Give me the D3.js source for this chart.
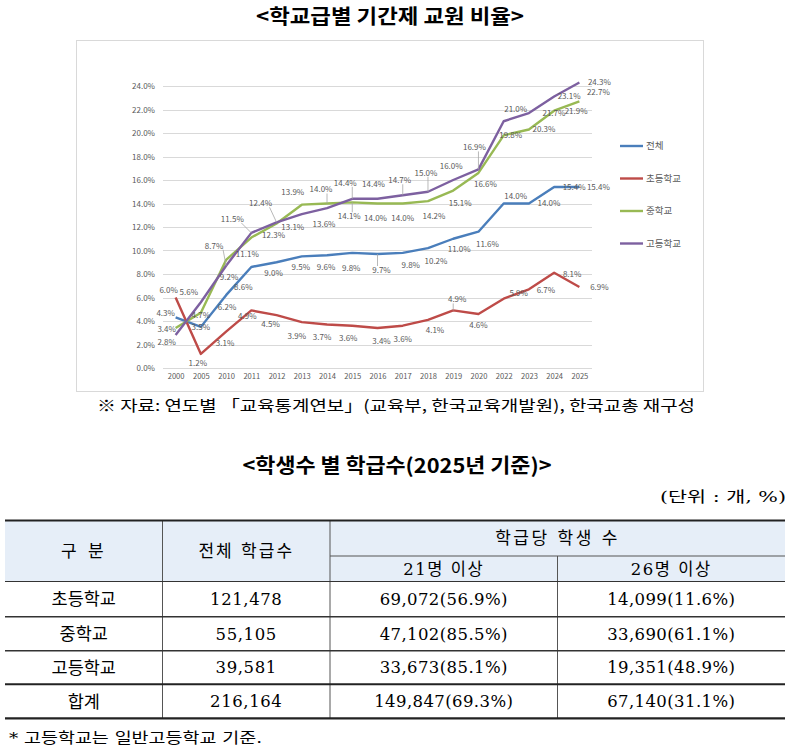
<!DOCTYPE html>
<html><head><meta charset="utf-8">
<script src="https://cdn.jsdelivr.net/npm/d3@7"></script>
<style>body{margin:0;background:#fff}</style>
</head><body>
<svg id="c" width="792" height="755" xmlns="http://www.w3.org/2000/svg"></svg>
<script>
// ---------- DATA ----------
const years = ["2000","2005","2010","2011","2012","2013","2014","2015","2016","2017","2018","2019","2020","2022","2023","2024","2025"];
const seriesNames = ["전체","초등학교","중학교","고등학교"];
const totalVals  = [4.3,3.5,6.2,8.6,9.0,9.5,9.6,9.8,9.7,9.8,10.2,11.0,11.6,14.0,14.0,15.4,15.4];
const elemVals   = [6.0,1.2,3.1,4.9,4.5,3.9,3.7,3.6,3.4,3.6,4.1,4.9,4.6,5.9,6.7,8.1,6.9];
const middleVals = [3.4,4.7,9.2,11.1,12.3,13.9,14.0,14.1,14.0,14.0,14.2,15.1,16.6,19.8,20.3,21.9,22.7];
const highVals   = [2.8,5.6,8.7,11.5,12.4,13.1,13.6,14.4,14.4,14.7,15.0,16.0,16.9,21.0,21.7,23.1,24.3];
const yTickVals  = [0,2,4,6,8,10,12,14,16,18,20,22,24];

const tableRowNames = ["초등학교","중학교","고등학교","합계"];
const totalClasses  = ["121,478","55,105","39,581","216,164"];
const over21        = ["69,072(56.9%)","47,102(85.5%)","33,673(85.1%)","149,847(69.3%)"];
const over26        = ["14,099(11.6%)","33,690(61.1%)","19,351(48.9%)","67,140(31.1%)"];

// ---------- STYLE / LAYOUT ----------
const colors = ["#4A7EBB","#BE4B48","#98B954","#7D60A0"];
// label offsets [dx,dy] per series per point (placement only)
const labelOffsets = [
  [[-10,-4],[0,0],[1,12],[-8,20],[-3,11],[-1,11],[-1,12],[-1,15],[4,16],[8,12],[8,13],[6,10],[9,12],[12,-7],[20,0],[20,0],[19,0]],
  [[-7,-7],[-3,9],[-1,12],[-4,6],[-6,9],[-5,14],[-5,13],[-4,12],[4,13],[0,13],[7,10],[4,-11],[0,11],[15,-5],[17,1],[18,1],[20,0]],
  [[-9,1],[0,2],[3,17],[-4,17],[-3,12],[-9,-12],[-6,-14],[-3,14],[-2,15],[0,15],[6,15],[7,13],[7,11],[7,0],[15,0],[22,1],[19,-9]],
  [[-9,7],[-12,-10],[-12,-20],[-19,-14],[-16,-19],[-9,13],[-3,16],[-7,-16],[-4,-15],[-3,-15],[-2,-19],[-2,-14],[-4,-22],[12,-12],[25,0],[15,0],[20,0]]
];
const leaders = [[8],[11],[6,7],[2,3,4,7,9,10,12]];

const svg = d3.select("#c");
const KR = "'Noto Sans CJK KR','Noto Sans',sans-serif";
const SERIF = "'DejaVu Serif','Noto Sans CJK KR',serif";
const gray = "#595959";

// Title 1
svg.append("text").attr("x",390).attr("y",24).attr("text-anchor","middle")
  .attr("font-family",KR).attr("font-weight",700).attr("font-size",20)
  .attr("textLength",268).attr("lengthAdjust","spacingAndGlyphs")
  .text("<학교급별 기간제 교원 비율>");

// chart frame
svg.append("rect").attr("x",76.5).attr("y",40.5).attr("width",627).attr("height",351)
  .attr("fill","#fff").attr("stroke","#D9D9D9");

const x = d3.scalePoint().domain(years).range([163,592]).padding(0.5);
const y = d3.scaleLinear().domain([0,24]).range([368,86]);

// gridlines
svg.append("g").selectAll("line").data(yTickVals).join("line")
  .attr("x1",163).attr("x2",592).attr("y1",d=>Math.round(y(d))+0.5).attr("y2",d=>Math.round(y(d))+0.5)
  .attr("stroke","#D9D9D9").attr("stroke-width",1);

// y axis labels
const yAxis = d3.axisLeft(y).tickValues(yTickVals).tickFormat(d=>d.toFixed(1)+"%").tickSize(0).tickPadding(0);
const gy = svg.append("g").attr("transform","translate(155,0)").call(yAxis);
gy.select(".domain").remove();
gy.selectAll("text").attr("font-family",KR).attr("font-size",8).attr("fill",gray);

// x axis labels
const xAxis = d3.axisBottom(x).tickSize(0).tickPadding(0);
const gx = svg.append("g").attr("transform","translate(0,377)").call(xAxis);
gx.select(".domain").remove();
gx.selectAll("text").attr("font-family",KR).attr("font-size",7.6).attr("fill",gray).attr("dy","0.32em").attr("y",0);

// lines
const allSeries = [totalVals, elemVals, middleVals, highVals];
const line = d3.line().x((d,i)=>x(years[i])).y(d=>y(d));
svg.append("g").selectAll("path").data(allSeries).join("path")
  .attr("d",d=>line(d)).attr("fill","none")
  .attr("stroke",(d,i)=>colors[i]).attr("stroke-width",2.4).attr("stroke-linejoin","round");

// leaders and labels
const lg = svg.append("g");
allSeries.forEach((vals,s)=>{
  leaders[s].forEach(i=>{
    const px = x(years[i]), py = y(vals[i]);
    const [dx,dy] = labelOffsets[s][i];
    const lx = px+dx, ly = py+dy;
    const ex = lx + Math.max(-9,Math.min(9,px-lx));
    const ey = ly + (dy<0 ? 4 : -4);
    lg.append("line").attr("x1",ex).attr("y1",ey).attr("x2",px).attr("y2",py)
      .attr("stroke","#A6A6A6").attr("stroke-width",0.8);
  });
});
allSeries.forEach((vals,s)=>{
  lg.append("g").selectAll("text").data(vals).join("text")
    .attr("x",(d,i)=>x(years[i])+labelOffsets[s][i][0])
    .attr("y",(d,i)=>y(d)+labelOffsets[s][i][1])
    .attr("dy","0.35em").attr("text-anchor","middle")
    .attr("font-family",KR).attr("font-size",8).attr("fill",gray)
    .text(d=>d.toFixed(1)+"%");
});

// legend
const legY = [146,178.5,211,243.5];
const leg = svg.append("g").selectAll("g").data(seriesNames).join("g")
  .attr("transform",(d,i)=>`translate(620,${legY[i]})`);
leg.append("line").attr("x1",0).attr("x2",23).attr("stroke",(d,i)=>colors[i]).attr("stroke-width",2.4);
leg.append("text").attr("x",26).attr("dy","0.35em").attr("font-family",KR).attr("font-size",9.5)
  .attr("fill",gray).text(d=>d);

// source note
svg.append("text").attr("x",396).attr("y",411).attr("text-anchor","middle")
  .attr("font-family",KR).attr("font-size",15).attr("textLength",598).attr("lengthAdjust","spacingAndGlyphs")
  .text("※ 자료: 연도별 「교육통계연보」(교육부, 한국교육개발원), 한국교총 재구성");

// Title 2
svg.append("text").attr("x",397).attr("y",473).attr("text-anchor","middle")
  .attr("font-family",KR).attr("font-weight",700).attr("font-size",20)
  .attr("textLength",309).attr("lengthAdjust","spacingAndGlyphs")
  .text("<학생수 별 학급수(2025년 기준)>");

// unit
svg.append("text").attr("x",786).attr("y",502).attr("text-anchor","end")
  .attr("font-family",SERIF).attr("font-size",15).attr("textLength",126).attr("lengthAdjust","spacingAndGlyphs")
  .text("(단위 : 개, %)");

// ---------- TABLE ----------
const colX = [5,162.5,330,557.5,785];
const tTop = 520.5, tSub = 556, tHead = 581.5;
const rowLines = [616.7,650.7,684.3,718.3];
const rowCY = [599,633.7,667.5,701.3];
const tg = svg.append("g");
tg.append("rect").attr("x",colX[0]).attr("y",tTop).attr("width",colX[4]-colX[0]).attr("height",tHead-tTop).attr("fill","#E6EEF8");
// vertical lines
[[colX[1],tTop,rowLines[3]],[colX[2],tTop,rowLines[3]],[colX[3],tSub,rowLines[3]]].forEach(v=>{
  tg.append("line").attr("x1",v[0]).attr("x2",v[0]).attr("y1",v[1]).attr("y2",v[2]).attr("stroke","#555").attr("stroke-width",1);
});
// horizontal lines
const hl = [
  [colX[0],colX[4],tTop,2.2,"#222"],
  [colX[2],colX[4],tSub,1,"#555"],
  [colX[0],colX[4],tHead,1,"#333"],
  [colX[0],colX[4],rowLines[0],1.4,"#333"],
  [colX[0],colX[4],rowLines[1],1.4,"#333"],
  [colX[0],colX[4],rowLines[2],2,"#222"],
  [colX[0],colX[4],rowLines[3],2.2,"#222"]
];
hl.forEach(h=>tg.append("line").attr("x1",h[0]).attr("x2",h[1]).attr("y1",h[2]).attr("y2",h[2]).attr("stroke",h[4]).attr("stroke-width",h[3]));

function cell(txt,cx,cy,size,ls){
  tg.append("text").attr("x",cx).attr("y",cy).attr("dy","0.36em").attr("text-anchor","middle")
    .attr("font-family",SERIF).attr("font-size",size||16.5).attr("letter-spacing",ls||0).attr("fill","#000").text(txt);
}
const mid = i=>(colX[i]+colX[i+1])/2;
cell("구  분",mid(0),551,17,3);
cell("전체 학급수",mid(1),551,17,2);
cell("학급당 학생 수",(colX[2]+colX[4])/2,538,17,2.5);
cell("21명 이상",mid(2),569,16.5,1.5);
cell("26명 이상",mid(3),569,16.5,1.5);
tableRowNames.forEach((n,r)=>{
  cell(n,mid(0),rowCY[r],17.5,0);
  cell(totalClasses[r],mid(1),rowCY[r],16.5,0.6);
  cell(over21[r],mid(2),rowCY[r],16.5,0.4);
  cell(over26[r],mid(3),rowCY[r],16.5,0.4);
});

// footnote
svg.append("text").attr("x",9).attr("y",743).attr("font-family",SERIF).attr("font-size",15)
  .attr("textLength",253).attr("lengthAdjust","spacingAndGlyphs")
  .text("* 고등학교는 일반고등학교 기준.");
</script>
</body></html>
